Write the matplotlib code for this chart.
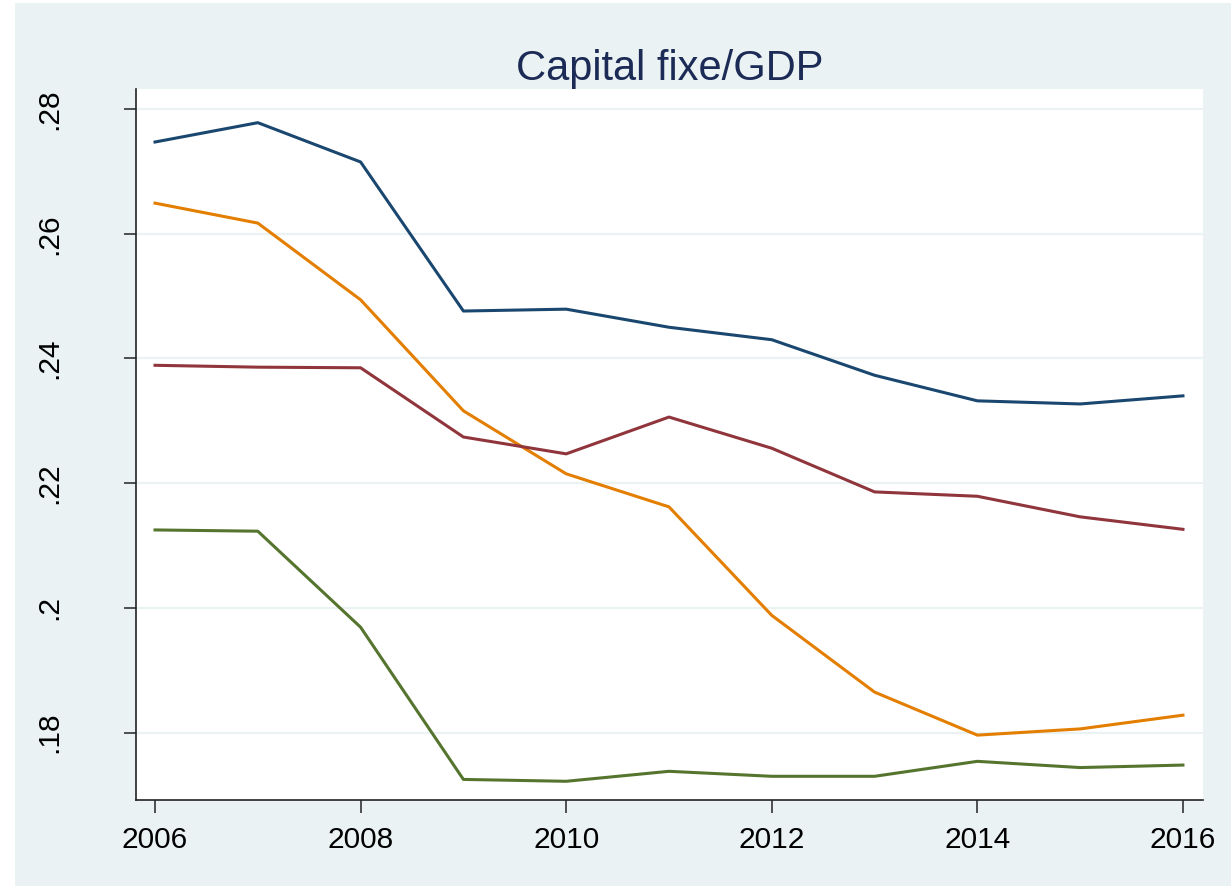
import numpy as np
import matplotlib.pyplot as plt
from matplotlib.patches import Rectangle

plt.rcParams['font.family'] = ['Liberation Sans', 'DejaVu Sans']

# data
years = [2006, 2007, 2008, 2009, 2010, 2011, 2012, 2013, 2014, 2015, 2016]
navy = [0.2747, 0.2778, 0.2715, 0.2476, 0.2479, 0.2450, 0.2430, 0.2373, 0.2332, 0.2327, 0.2340]
orange = [0.2649, 0.2617, 0.2494, 0.2316, 0.2215, 0.2162, 0.1988, 0.1865, 0.1796, 0.1806, 0.1828]
maroon = [0.2389, 0.2386, 0.2385, 0.2274, 0.2247, 0.2306, 0.2256, 0.2186, 0.2179, 0.2146, 0.2126]
green = [0.2125, 0.2123, 0.1969, 0.1725, 0.1722, 0.1738, 0.1730, 0.1730, 0.1754, 0.1744, 0.1748]

yticks = [0.18, 0.20, 0.22, 0.24, 0.26, 0.28]
ylabels = ['.18', '.2', '.22', '.24', '.26', '.28']
xticks = [2006, 2008, 2010, 2012, 2014, 2016]

bg = '#eaf2f3'
W, H = 1231, 886
fig = plt.figure(figsize=(W / 100, H / 100), dpi=100, facecolor='white')
fig.patches.append(Rectangle((15 / W, 0), 1 - 15 / W, 1 - 3 / H, transform=fig.transFigure,
                             facecolor=bg, edgecolor='none', zorder=-10))

ax = fig.add_axes([136 / W, 1 - 800 / H, (1203 - 136) / W, (800 - 89) / H])
ax.set_facecolor('white')

for v in yticks:
    ax.axhline(v, color=bg, lw=1.6, zorder=1)

ax.plot(years, navy, color='#1a476f', lw=2.2, zorder=3)
ax.plot(years, orange, color='#e37e00', lw=2.2, zorder=3)
ax.plot(years, maroon, color='#90353b', lw=2.2, zorder=3)
ax.plot(years, green, color='#55752f', lw=2.2, zorder=3)

ax.set_xlim(2005.815, 2016.195)
ax.set_ylim(0.1692, 0.2832)
ax.set_yticks(yticks)
ax.set_yticklabels(ylabels, rotation=90, va='center')
ax.set_xticks(xticks)

for s in ['top', 'right']:
    ax.spines[s].set_visible(False)
for s in ['left', 'bottom']:
    ax.spines[s].set_color('#222222')
    ax.spines[s].set_linewidth(1.2)

ax.tick_params(axis='y', length=8.5, width=1.2, color='#333333', labelsize=21.5, pad=44)
ax.tick_params(axis='x', length=9, width=1.2, color='#333333', labelsize=21.5, pad=10)

ax.set_title('Capital fixe/GDP', color='#1c2b56', fontsize=30, pad=5)

fig.savefig('out.png', dpi=100, facecolor=fig.get_facecolor())
